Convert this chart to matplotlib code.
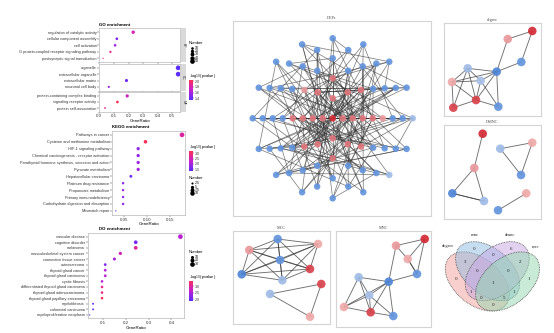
import numpy as np
import matplotlib
matplotlib.use("Agg")
import matplotlib.pyplot as plt
from matplotlib.colors import LinearSegmentedColormap, Normalize
from matplotlib.cm import ScalarMappable
from matplotlib.collections import LineCollection
from matplotlib.patches import Ellipse, Rectangle

plt.rcParams['font.family'] = ['Liberation Sans', 'DejaVu Sans']

W, H = 554, 333

# ---------------- enrichment data ----------------
go_terms = ["regulation of catalytic activity", "cellular component assembly", "cell activation",
            "G protein-coupled receptor signaling pathway", "postsynaptic signal transduction",
            "organelle", "extracellular organelle", "extracellular matrix", "neuronal cell body",
            "protein-containing complex binding", "signaling receptor activity", "protein self-association"]
go_ont = ["BP"] * 5 + ["CC"] * 4 + ["MF"] * 3
go_ratio = [0.232, 0.120, 0.108, 0.076, 0.026, 0.540, 0.540, 0.186, 0.065, 0.191, 0.124, 0.039]
go_count = [21, 11, 10, 7, 3, 50, 50, 17, 6, 18, 11, 4]
go_logp = [1.78, 1.45, 1.55, 1.88, 1.90, 1.33, 1.35, 1.42, 1.55, 1.75, 2.05, 1.88]

kegg_terms = ["Pathways in cancer", "Cysteine and methionine metabolism", "HIF-1 signaling pathway",
              "Chemical carcinogenesis - receptor activation",
              "Parathyroid hormone synthesis, secretion and action", "Pyruvate metabolism",
              "Hepatocellular carcinoma", "Platinum drug resistance", "Propanoate metabolism",
              "Primary immunodeficiency", "Carbohydrate digestion and absorption", "Mismatch repair"]
kegg_ratio = [0.177, 0.097, 0.081, 0.081, 0.081, 0.081, 0.065, 0.048, 0.048, 0.048, 0.048, 0.032]
kegg_count = [11, 6, 5, 5, 5, 5, 4, 3, 3, 3, 3, 2]
kegg_logp = [2.60, 3.18, 1.80, 1.80, 1.92, 1.95, 1.50, 1.70, 1.90, 1.70, 1.75, 1.30]

do_terms = ["vascular disease", "cognitive disorder", "melanoma", "musculoskeletal system cancer",
            "connective tissue cancer", "osteosarcoma", "thyroid gland cancer", "thyroid gland carcinoma",
            "cystic fibrosis", "differentiated thyroid gland carcinoma", "thyroid gland adenocarcinoma",
            "thyroid gland papillary carcinoma", "myelofibrosis", "colorectal carcinoma",
            "myeloproliferative neoplasm"]
do_ratio = [0.439, 0.244, 0.244, 0.177, 0.151, 0.111, 0.111, 0.111, 0.097, 0.097, 0.097, 0.097,
            0.058, 0.058, 0.043]
do_count = [30, 17, 17, 12, 10, 8, 8, 8, 7, 7, 7, 7, 4, 4, 3]
do_logp = [2.60, 2.10, 3.05, 2.80, 2.40, 2.20, 2.60, 2.60, 2.55, 3.10, 3.10, 3.43, 2.00, 2.00, 1.87]

# ---------------- network data ----------------
shell_codes = ["D", "rr", "rrrr", "rrrrrr", "rrrprrrr", "pbbbbbbbbb",
               "bbbbbbbbbbbb", "bbbbbbbbbbbbbb", "lbbbbbbbbbbbbblb"]
hub_links = {
    0: [1, 2, 3, 5, 8, 11, 14, 17, 19, 22, 27, 33, 38, 45, 52, 60, 66, 70],
    1: [4, 6, 9, 13, 16, 24, 30, 35, 41, 48, 58, 64],
    2: [3, 7, 10, 15, 20, 26, 31, 39, 47, 55, 62, 69],
    3: [8, 12, 18, 23, 29, 36, 44, 50, 59, 67],
    4: [7, 11, 14, 21, 28, 34, 42, 53, 61, 71],
    5: [9, 13, 19, 25, 32, 40, 46, 57, 65],
    6: [10, 16, 22, 30, 37, 43, 51, 63, 72],
    7: [12, 17, 24, 33, 49, 56, 68],
    8: [15, 21, 27, 38, 45, 54, 62],
    9: [14, 20, 26, 35, 44, 58, 70],
    10: [18, 23, 31, 41, 52, 60],
    11: [16, 25, 34, 47, 57, 66],
    12: [19, 28, 36, 43, 55, 64],
    13: [22, 29, 39, 50, 61, 69],
    14: [24, 32, 42, 53, 67],
    15: [20, 30, 37, 48, 59, 72],
    16: [26, 33, 46, 54, 63],
    17: [21, 35, 40, 56, 65],
    18: [27, 31, 44, 51, 71],
    19: [23, 38, 49, 62, 68],
    20: [28, 34, 45, 57, 60],
}
outer_links = {
    21: [31, 43], 22: [35, 49], 23: [40, 62], 24: [47, 68], 25: [36, 58], 26: [39, 57],
    27: [44, 71], 28: [52, 65], 29: [47], 30: [54, 67], 31: [60], 32: [59], 33: [58, 70],
    34: [48], 35: [64], 36: [53], 37: [52], 38: [55], 39: [72], 40: [63], 41: [64],
    42: [50], 43: [46], 44: [66], 45: [69], 46: [61], 47: [65], 48: [57], 49: [59],
    50: [70], 51: [68], 52: [71], 53: [61], 54: [66], 55: [69], 56: [57], 59: [62],
    63: [66], 67: [72],
}

# hub subnetworks (positions inside each panel, 0-1)
degree_x = [0.910, 0.657, 0.797, 0.543, 0.244, 0.378, 0.082, 0.330, 0.096, 0.560]
degree_y = [0.911, 0.825, 0.579, 0.475, 0.511, 0.378, 0.364, 0.171, 0.089, 0.100]
degree_col = "DpbBlLqRRb"
degree_edges = [(0, 1), (0, 2), (1, 3), (2, 3), (3, 4), (3, 5), (3, 7), (3, 9), (4, 5), (4, 6),
                (4, 7), (4, 8), (5, 6), (5, 7), (5, 9), (6, 7), (6, 8), (7, 8), (7, 9), (6, 3)]

mnc_x = [0.937, 0.635, 0.758, 0.856, 0.558, 0.242, 0.354, 0.087, 0.368, 0.606]
mnc_y = [0.914, 0.844, 0.705, 0.549, 0.469, 0.515, 0.327, 0.205, 0.150, 0.111]
mnc_col = "DpqbBlLqRb"
mnc_edges = [(0, 1), (0, 2), (0, 3), (1, 2), (2, 3), (2, 3), (1, 4), (3, 4), (4, 5), (4, 6), (4, 8),
             (4, 9), (5, 6), (5, 7), (5, 8), (6, 7), (6, 8), (6, 9), (7, 8), (8, 9), (7, 4)]

mcc_x = [0.459, 0.165, 0.876, 0.483, 0.793, 0.087, 0.507, 0.910, 0.380, 0.793]
mcc_y = [0.914, 0.796, 0.861, 0.689, 0.593, 0.536, 0.472, 0.432, 0.325, 0.081]
mcc_col = "bpqbRBlRlq"
mcc_edges = [(i, j) for i in range(7) for j in range(i + 1, 7)] + [(7, 8), (7, 9), (8, 9)]

dmnc_x = [0.399, 0.312, 0.086, 0.412, 0.580, 0.910, 0.794, 0.848, 0.557]
dmnc_y = [0.907, 0.543, 0.273, 0.191, 0.748, 0.812, 0.468, 0.273, 0.093]
dmnc_col = "DpBllqbqb"
dmnc_edges = [(0, 1), (1, 2), (1, 3), (2, 3), (2, 3), (4, 5), (4, 6), (5, 6), (7, 8)]

venn_names = ["degree", "mnc", "dmnc", "mcc"]
venn_counts = {"1000": 0, "0100": 0, "0010": 6, "0001": 1, "1100": 3, "0110": 0, "0011": 2,
               "1110": 0, "0111": 0, "1111": 1, "1010": 1, "1011": 0, "1101": 5, "0101": 1,
               "1001": 0}

node_colors = {"D": "#d42a35", "R": "#d9434c", "r": "#e0767c", "p": "#e9999c", "q": "#efaaa9",
               "B": "#4f86d8", "b": "#6495dd", "l": "#9fbbe6", "L": "#a9c2ea"}

cmap = LinearSegmentedColormap.from_list("pv", ["#5a2dff", "#c21fd0", "#ff2f55"])

fig = plt.figure(figsize=(5.54, 3.33), dpi=100)


def box(x0, y0, x1, y1):
    return fig.add_axes([x0 / W, 1 - y1 / H, (x1 - x0) / W, (y1 - y0) / H])


def dot_area(n, lo, hi):
    frac = np.clip((np.asarray(n, float) - lo) / (hi - lo), 0, 1)
    d = 1.3 + np.sqrt(frac) * (4.7 - 1.3)
    return (d * 0.72) ** 2


def style_panel(ax, show_x):
    for s in ax.spines.values():
        s.set_color("#b8b8b8")
        s.set_linewidth(0.5)
    ax.tick_params(axis="y", labelsize=2.8, length=1.2, width=0.3, pad=0.8, colors="#333333")
    ax.tick_params(axis="x", labelsize=3.2, length=1.2, width=0.3, pad=0.8, colors="#333333")
    if not show_x:
        ax.tick_params(axis="x", labelbottom=False)


def dots(ax, terms, ratio, count, logp, norm, lo, hi):
    y = np.arange(len(terms))
    ax.scatter(ratio, y, s=dot_area(count, lo, hi), c=logp, cmap=cmap, norm=norm,
               linewidths=0, zorder=3)
    ax.set_yticks(y)
    ax.set_yticklabels(terms)
    ax.set_ylim(len(terms) - 0.4, -0.6)


ov = fig.add_axes([0, 0, 1, 1])
ov.set_xlim(0, W)
ov.set_ylim(H, 0)
ov.axis("off")


def size_legend(x, y, values, lo, hi):
    ov.text(x, y, "Number", fontsize=3, va="center", ha="left")
    for i, v in enumerate(values):
        yy = y + 5 + i * 3.3
        ov.scatter([x + 3], [yy], s=dot_area(v, lo, hi), color="black", linewidths=0)
        ov.text(x + 5.5, yy, f"{v:g}", fontsize=2.6, va="center")


def color_legend(y, norm, ticks):
    ov.text(189, y, "-log$_{10}$(pvalue)", fontsize=3, va="center", ha="left")
    cax = box(189.3, y + 4, 192.7, y + 24)
    cb = fig.colorbar(ScalarMappable(norm=norm, cmap=cmap), cax=cax, ticks=ticks)
    cb.outline.set_visible(False)
    cax.tick_params(labelsize=2.6, length=1, width=0.3, pad=0.8, colors="#333333")


# ---------------- GO ----------------
go_norm = Normalize(min(go_logp), max(go_logp))
go_lo, go_hi = min(go_count), max(go_count)
facet_rows = {"BP": (28.3, 62.3), "CC": (64.0, 90.7), "MF": (92.3, 111.7)}
for ont, (y0, y1) in facet_rows.items():
    idx = [i for i, o in enumerate(go_ont) if o == ont]
    ax = box(99.3, y0, 180.5, y1)
    dots(ax, [go_terms[i] for i in idx], [go_ratio[i] for i in idx], [go_count[i] for i in idx],
         [go_logp[i] for i in idx], go_norm, go_lo, go_hi)
    ax.set_xlim(0, 0.556)
    ax.set_xticks([0.0, 0.1, 0.2, 0.3, 0.4, 0.5])
    style_panel(ax, ont == "MF")
    ov.add_patch(Rectangle((181, y0), 4.5, y1 - y0, color="#d9d9d9", lw=0))
    ov.text(183.3, (y0 + y1) / 2, ont, fontsize=2.4, rotation=-90, ha="center", va="center",
            color="#333333")
    if ont == "MF":
        ax.set_xlabel("GeneRatio", fontsize=3.2, labelpad=0.5)
ov.text(99.3, 24.5, "GO enrichment", fontsize=3.2, fontweight="bold", va="center")
size_legend(189, 42.7, [10, 20, 30, 40, 50], go_lo, go_hi)
color_legend(76, go_norm, [1.4, 1.6, 1.8, 2.0])

# ---------------- KEGG ----------------
kegg_norm = Normalize(min(kegg_logp), max(kegg_logp))
ax = box(112.3, 130.7, 185, 215)
dots(ax, kegg_terms, kegg_ratio, kegg_count, kegg_logp, kegg_norm, min(kegg_count), max(kegg_count))
ax.set_xlim(0.0244, 0.1835)
ax.set_xticks([0.05, 0.10, 0.15])
style_panel(ax, True)
ax.set_xlabel("GeneRatio", fontsize=3.2, labelpad=0.5)
ov.text(112.3, 127.3, "KEGG enrichment", fontsize=3.2, fontweight="bold", va="center")
color_legend(147.3, kegg_norm, [1.5, 2.0, 2.5, 3.0])
size_legend(189, 178.3, [2.5, 5.0, 7.5, 10.0], min(kegg_count), max(kegg_count))

# ---------------- DO ----------------
do_norm = Normalize(min(do_logp), max(do_logp))
ax = box(87.5, 233.3, 184.3, 318.3)
dots(ax, do_terms, do_ratio, do_count, do_logp, do_norm, min(do_count), max(do_count))
ax.set_xlim(0.0336, 0.456)
ax.set_xticks([0.1, 0.2, 0.3, 0.4])
style_panel(ax, True)
ax.set_xlabel("GeneRatio", fontsize=3.2, labelpad=0.5)
ov.text(99, 229.3, "DO enrichment", fontsize=3.2, fontweight="bold", va="center")
size_legend(189, 252, [10, 20, 30], min(do_count), max(do_count))
color_legend(276.7, do_norm, [2.0, 2.5, 3.0])


# ---------------- networks ----------------
def net_frame(ax, title):
    ax.set_xticks([])
    ax.set_yticks([])
    for s in ax.spines.values():
        s.set_color("#d4d4d4")
        s.set_linewidth(0.8)
    ax.set_title(title, fontsize=3, pad=1.5, family="Liberation Serif", color="#444444")


def draw_net(ax, xs, ys, cols, edges, size, lw, alpha):
    segs = [[(xs[a], ys[a]), (xs[b], ys[b])] for a, b in edges]
    ax.add_collection(LineCollection(segs, colors="#333333", linewidths=lw, alpha=alpha, zorder=1))
    ax.scatter(xs, ys, s=size, c=[node_colors[c] for c in cols], linewidths=0, alpha=0.92, zorder=2)


# DEPs shell layout
dep_x, dep_y, dep_c = [], [], []
for k, codes in enumerate(shell_codes):
    n = len(codes)
    for j, c in enumerate(codes):
        ang = 2 * np.pi * j / n
        dep_x.append(k * np.cos(ang))
        dep_y.append(k * np.sin(ang))
        dep_c.append(c)
dep_edges = [(a, b) for links in (hub_links, outer_links) for a, nb in links.items() for b in nb]
ax = box(232.7, 20.7, 431, 216)
draw_net(ax, dep_x, dep_y, dep_c, dep_edges, 22, 0.55, 0.62)
ax.set_xlim(-10.0, 9.83)
ax.set_ylim(-9.77, 9.76)
net_frame(ax, "DEPs")

small_nets = [
    ((444, 22.7, 541, 116), degree_x, degree_y, degree_col, degree_edges, "degree"),
    ((444, 125, 541, 219), dmnc_x, dmnc_y, dmnc_col, dmnc_edges, "DMNC"),
    ((233.3, 231, 330, 324.3), mcc_x, mcc_y, mcc_col, mcc_edges, "MCC"),
    ((335.7, 230.7, 430.7, 326.7), mnc_x, mnc_y, mnc_col, mnc_edges, "MNC"),
]
for rect, xs, ys, cols, edges, title in small_nets:
    ax = box(*rect)
    draw_net(ax, xs, ys, cols, edges, 38, 0.65, 0.7)
    ax.set_xlim(0, 1)
    ax.set_ylim(0, 1)
    net_frame(ax, title)

# ---------------- Venn ----------------
ax = box(441.3, 220, 544.1, 322.4)
ax.set_xlim(0, 1)
ax.set_ylim(0, 1)
ax.axis("off")
ellipses = [(0.350, 0.400, 140, "#f2a09a"), (0.450, 0.500, 140, "#8fbde3"),
            (0.544, 0.500, 40, "#c7a6e3"), (0.644, 0.400, 40, "#93d6ae")]
for cx, cy, ang, col in ellipses:
    ax.add_patch(Ellipse((cx, cy), 0.72, 0.45, angle=ang, facecolor=col, alpha=0.5, lw=0))
    ax.add_patch(Ellipse((cx, cy), 0.72, 0.45, angle=ang, facecolor="none", edgecolor="#555555",
                         lw=0.6, ls=(0, (1, 1))))
spots = {"1000": (0.14, 0.42), "0100": (0.32, 0.72), "0010": (0.68, 0.72), "0001": (0.85, 0.42),
         "1100": (0.23, 0.59), "0110": (0.50, 0.66), "0011": (0.77, 0.59), "1110": (0.35, 0.50),
         "0111": (0.65, 0.50), "1111": (0.50, 0.38), "1010": (0.29, 0.30), "1011": (0.39, 0.24),
         "1101": (0.61, 0.24), "0101": (0.71, 0.30), "1001": (0.50, 0.17)}
for key, (tx, ty) in spots.items():
    ax.text(tx, ty, str(venn_counts[key]), fontsize=3.6, ha="center", va="center",
            family="Liberation Serif", color="#222222")
for name, (tx, ty) in zip(venn_names, [(0.07, 0.75), (0.33, 0.85), (0.67, 0.85), (0.92, 0.74)]):
    ax.text(tx, ty, name, fontsize=3.4, ha="center", va="center", family="Liberation Serif",
            color="#333333")

fig.savefig("out.png", dpi=100)
